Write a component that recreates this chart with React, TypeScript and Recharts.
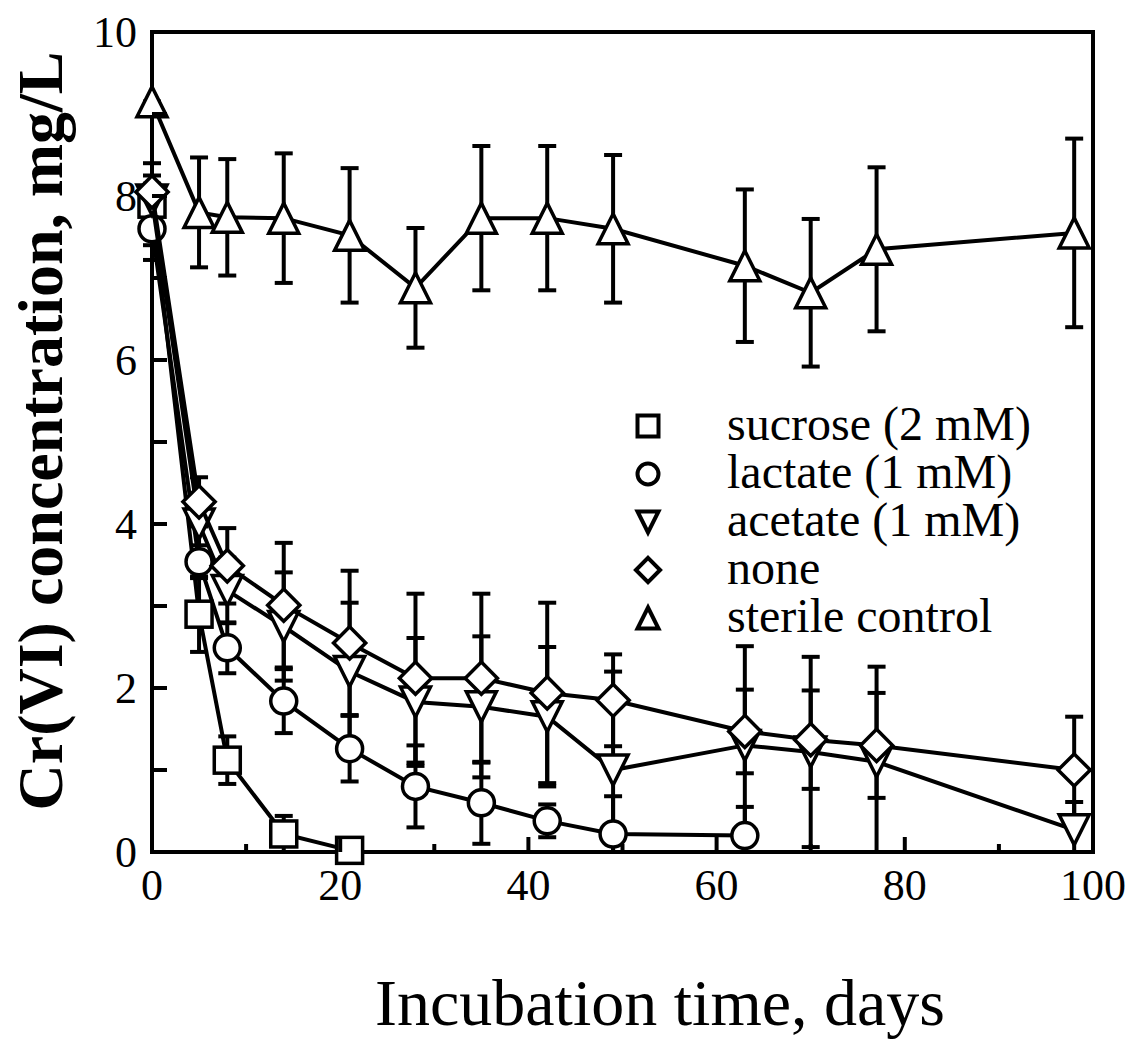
import { ComposedChart, Scatter, XAxis, YAxis, ErrorBar } from "recharts";

// incubation days and Cr(VI) mg/L
const sucroseDays = [0, 5, 8, 14, 21];
const sucroseCr = [7.9, 2.9, 1.12, 0.22, 0.02];
const sucroseErr = [0.5, 0.46, 0.29, 0.22, 0];

const lactateDays = [0, 5, 8, 14, 21, 28, 35, 42, 49, 63];
const lactateCr = [7.6, 3.54, 2.49, 1.84, 1.26, 0.8, 0.6, 0.38, 0.22, 0.2];
const lactateErr = [0.38, 0.2, 0.31, 0.39, 0.4, 0.5, 0.5, 0.2, 0.46, 0.35];

const longDays = [0, 5, 8, 14, 21, 28, 35, 42, 49, 63, 70, 77, 98];

const acetateCr = [7.95, 4.0, 3.19, 2.75, 2.2, 1.83, 1.77, 1.65, 1.0, 1.3, 1.22, 1.1, 0.27];
const acetateErr = [0.2, 0.35, 0.4, 0.66, 0.84, 0.78, 0.86, 0.85, 1.2, 1.21, 1.16, 1.16, 0.34];

const noneCr = [8.05, 4.27, 3.49, 3.01, 2.55, 2.12, 2.12, 1.94, 1.85, 1.47, 1.37, 1.3, 1.0];
const noneErr = [0.2, 0.3, 0.46, 0.76, 0.88, 1.03, 1.03, 1.1, 0.56, 0.51, 0.6, 0.64, 0.65];

const sterileCr = [9.15, 7.8, 7.74, 7.73, 7.52, 6.88, 7.73, 7.73, 7.6, 7.15, 6.82, 7.35, 7.55];
const sterileErr = [0, 0.67, 0.71, 0.79, 0.82, 0.73, 0.88, 0.88, 0.9, 0.93, 0.9, 1.0, 1.15];

const xTicks = [0, 10, 20, 30, 40, 50, 60, 70, 80, 90, 100];
const yTicks = [0, 1, 2, 3, 4, 5, 6, 7, 8, 9, 10];

const legendLabels = ["sucrose (2 mM)", "lactate (1 mM)", "acetate (1 mM)", "none", "sterile control"];
const legendKinds = ["square", "circle", "down", "diamond", "up"];

const FONT = "'Liberation Serif', 'Times New Roman', serif";

// error bars stop at the x axis (concentration can't go below 0)
const toRows = (days: number[], cr: number[], err: number[]) =>
  days.map((d, i) => ({ x: d, y: cr[i], err: [Math.min(err[i], cr[i]), err[i]] }));

function Marker({ kind, cx, cy, s, sw = 3.5 }: { kind: string; cx: number; cy: number; s: number; sw?: number }) {
  const common = { fill: "#fff", stroke: "#000", strokeWidth: sw };
  const h = s / 2;
  if (kind === "square") return <rect x={cx - h} y={cy - h} width={s} height={s} {...common} />;
  if (kind === "circle") return <circle cx={cx} cy={cy} r={h} {...common} />;
  if (kind === "diamond")
    return <path d={`M${cx},${cy - h * 1.15}L${cx + h * 1.15},${cy}L${cx},${cy + h * 1.15}L${cx - h * 1.15},${cy}Z`} {...common} />;
  if (kind === "up")
    return <path d={`M${cx},${cy - h}L${cx + h},${cy + h}L${cx - h},${cy + h}Z`} {...common} />;
  return <path d={`M${cx - h},${cy - h}L${cx + h},${cy - h}L${cx},${cy + h}Z`} {...common} />;
}

const shapeFor = (kind: string, s: number) => (props: any) =>
  <Marker kind={kind} cx={props.cx} cy={props.cy} s={s} />;

const BottomTick = ({ x, y, payload }: any) => {
  const major = payload.value % 20 === 0;
  return (
    <g>
      <line x1={x} x2={x} y1={y} y2={y - (major ? 15 : 8)} stroke="#000" strokeWidth={4} />
      {major && (
        <text x={x} y={y + 48} textAnchor="middle" fontSize={44} fontFamily={FONT} fill="#000">
          {payload.value}
        </text>
      )}
    </g>
  );
};

const TopTick = ({ x, y, payload }: any) => {
  const major = payload.value % 20 === 0;
  return <line x1={x} x2={x} y1={y} y2={y + (major ? 15 : 8)} stroke="#000" strokeWidth={4} />;
};

const LeftTick = ({ x, y, payload }: any) => (
  <g>
    <line x1={x} x2={x + 15} y1={y} y2={y} stroke="#000" strokeWidth={4} />
    {payload.value % 2 === 0 && (
      <text x={x - 15} y={y + 15} textAnchor="end" fontSize={44} fontFamily={FONT} fill="#000">
        {payload.value}
      </text>
    )}
  </g>
);

const RightTick = ({ x, y }: any) => (
  <line x1={x} x2={x - 15} y1={y} y2={y} stroke="#000" strokeWidth={4} />
);

const axisLine = { stroke: "#000", strokeWidth: 4, strokeLinecap: "square" as const };

export default function App() {
  const series = [
    { kind: "square", data: toRows(sucroseDays, sucroseCr, sucroseErr), s: 26 },
    { kind: "circle", data: toRows(lactateDays, lactateCr, lactateErr), s: 26 },
    { kind: "down", data: toRows(longDays, acetateCr, acetateErr), s: 30 },
    { kind: "diamond", data: toRows(longDays, noneCr, noneErr), s: 28 },
    { kind: "up", data: toRows(longDays, sterileCr, sterileErr), s: 30 },
  ];

  return (
    <div style={{ position: "absolute", left: 0, top: 0, width: 1132, height: 1040, background: "#fff" }}>
      <ComposedChart width={1132} height={1040} margin={{ top: 31, right: 38, left: 0, bottom: 128 }}>
        <XAxis xAxisId="b" type="number" dataKey="x" domain={[0, 100]} ticks={xTicks} interval={0}
          height={60} tickSize={0} tickMargin={0} tickLine={false} axisLine={axisLine} tick={<BottomTick />} />
        <XAxis xAxisId="t" orientation="top" type="number" domain={[0, 100]} ticks={xTicks} interval={0}
          height={1} tickSize={0} tickMargin={0} tickLine={false} axisLine={axisLine} tick={<TopTick />} />
        <YAxis yAxisId="l" type="number" dataKey="y" domain={[0, 10]} ticks={yTicks} interval={0}
          width={152} tickSize={0} tickMargin={0} tickLine={false} axisLine={axisLine} tick={<LeftTick />} />
        <YAxis yAxisId="r" orientation="right" type="number" domain={[0, 10]} ticks={yTicks} interval={0}
          width={1} tickSize={0} tickMargin={0} tickLine={false} axisLine={axisLine} tick={<RightTick />} />
        {series.map((sr) => (
          <Scatter key={sr.kind} xAxisId="b" yAxisId="l" data={sr.data} dataKey="y"
            line={{ stroke: "#000", strokeWidth: 4 }} shape={shapeFor(sr.kind, sr.s)} isAnimationActive={false}>
            <ErrorBar dataKey="err" direction="y" width={9} stroke="#000" strokeWidth={4} />
          </Scatter>
        ))}
      </ComposedChart>
      <svg width={1132} height={1040} style={{ position: "absolute", left: 0, top: 0, pointerEvents: "none" }}>
        <text transform="translate(62,431) rotate(-90)" textAnchor="middle" fontSize={64} fontWeight="bold" fontFamily={FONT}>
          Cr(VI) concentration, mg/L
        </text>
        <text x={660} y={1025} textAnchor="middle" fontSize={66} fontFamily={FONT}>
          Incubation time, days
        </text>
        {legendLabels.map((lab, i) => (
          <g key={lab}>
            <Marker kind={legendKinds[i]} cx={648} cy={426 + i * 48} s={21} sw={4} />
            <text x={727} y={426 + i * 48 + 14} fontSize={48} fontFamily={FONT}>{lab}</text>
          </g>
        ))}
      </svg>
    </div>
  );
}
